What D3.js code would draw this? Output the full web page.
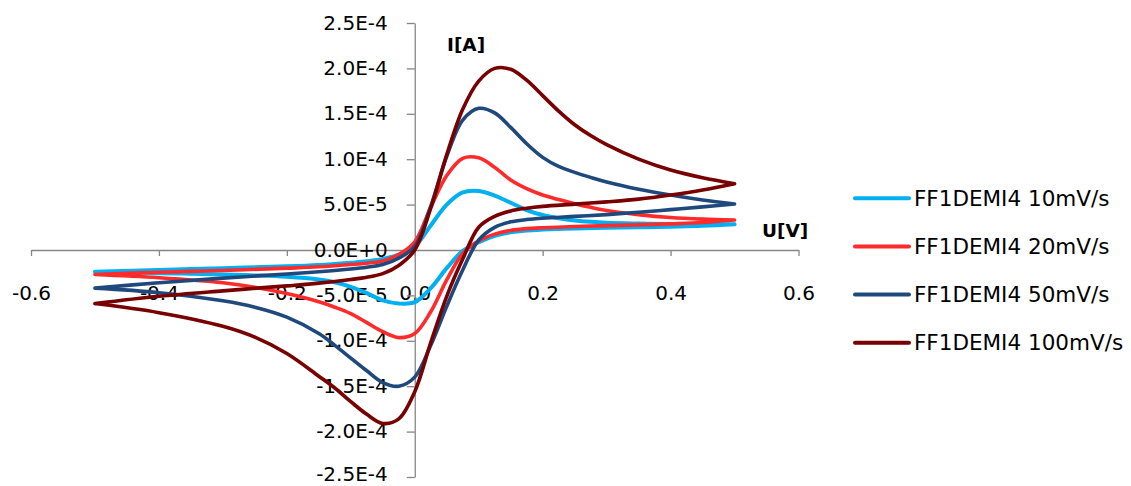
<!DOCTYPE html>
<html><head><meta charset="utf-8">
<script src="https://cdn.jsdelivr.net/npm/d3@7"></script>
<style>html,body{margin:0;padding:0;background:#fff;} svg{display:block;}</style>
</head><body><svg id="chart" width="1131" height="486"></svg>
<script>
// ---- data ----
const xTicks = [-0.6, -0.4, -0.2, 0, 0.2, 0.4, 0.6];
const xTickLabels = ["-0.6", "-0.4", "-0.2", "0.0", "0.2", "0.4", "0.6"];
const yTicks = [-2.5e-4, -2.0e-4, -1.5e-4, -1.0e-4, -5.0e-5, 0, 5.0e-5, 1.0e-4, 1.5e-4, 2.0e-4, 2.5e-4];
const yTickLabels = ["-2.5E-4", "-2.0E-4", "-1.5E-4", "-1.0E-4", "-5.0E-5", "0.0E+0", "5.0E-5", "1.0E-4", "1.5E-4", "2.0E-4", "2.5E-4"];
const seriesNames = ["FF1DEMI4 10mV/s", "FF1DEMI4 20mV/s", "FF1DEMI4 50mV/s", "FF1DEMI4 100mV/s"];
const xTitle = "U[V]";
const yTitle = "I[A]";

// forward scan (-0.5 V -> 0.5 V) potentials
const fwdX = [-0.5, -0.4, -0.3, -0.2, -0.15, -0.1, -0.075, -0.05, -0.025, 0, 0.025, 0.05, 0.075, 0.1, 0.125, 0.15, 0.175, 0.2, 0.225, 0.25, 0.275, 0.3, 0.35, 0.4, 0.45, 0.5];
// reverse scan (0.5 V -> -0.5 V) potentials
const revX = [0.5, 0.45, 0.4, 0.35, 0.3, 0.25, 0.2, 0.175, 0.15, 0.125, 0.1, 0.075, 0.05, 0.025, 0, -0.025, -0.05, -0.075, -0.1, -0.125, -0.15, -0.2, -0.25, -0.3, -0.4, -0.5];

const fwd10  = [-2.4e-5, -2.2e-5, -2.0e-5, -1.8e-5, -1.65e-5, -1.4e-5, -1.25e-5, -1.0e-5, -0.5e-5, 0.4e-5, 2.7e-5, 5.0e-5, 6.35e-5, 6.5e-5, 6.0e-5, 5.2e-5, 4.4e-5, 3.85e-5, 3.5e-5, 3.25e-5, 3.1e-5, 3.0e-5, 2.92e-5, 2.87e-5, 2.85e-5, 2.83e-5];
const rev10  = [2.83e-5, 2.66e-5, 2.57e-5, 2.5e-5, 2.44e-5, 2.37e-5, 2.25e-5, 2.15e-5, 1.95e-5, 1.55e-5, 0.85e-5, -0.1e-5, -2.0e-5, -4.2e-5, -5.75e-5, -5.9e-5, -5.55e-5, -4.75e-5, -4.05e-5, -3.55e-5, -3.25e-5, -2.95e-5, -2.8e-5, -2.7e-5, -2.55e-5, -2.4e-5];

const fwd20  = [-2.7e-5, -2.45e-5, -2.25e-5, -2.0e-5, -1.85e-5, -1.6e-5, -1.45e-5, -1.2e-5, -0.5e-5, 0.9e-5, 4.7e-5, 8.2e-5, 10.1e-5, 10.15e-5, 9.1e-5, 7.7e-5, 6.75e-5, 6.05e-5, 5.55e-5, 5.1e-5, 4.7e-5, 4.35e-5, 3.9e-5, 3.58e-5, 3.4e-5, 3.3e-5];
const rev20  = [3.3e-5, 3.02e-5, 2.88e-5, 2.77e-5, 2.68e-5, 2.58e-5, 2.45e-5, 2.35e-5, 2.15e-5, 1.75e-5, 1.0e-5, -0.4e-5, -3.3e-5, -6.8e-5, -9.2e-5, -9.65e-5, -9.0e-5, -8.0e-5, -7.0e-5, -6.3e-5, -5.7e-5, -4.8e-5, -4.1e-5, -3.6e-5, -3.05e-5, -2.7e-5];

const fwd50  = [-4.2e-5, -3.6e-5, -3.1e-5, -2.65e-5, -2.4e-5, -2.1e-5, -1.9e-5, -1.6e-5, -0.9e-5, 0.4e-5, 4.8e-5, 10.3e-5, 14.3e-5, 15.6e-5, 15.1e-5, 13.5e-5, 11.7e-5, 10.2e-5, 9.2e-5, 8.55e-5, 8.0e-5, 7.5e-5, 6.7e-5, 6.05e-5, 5.5e-5, 5.07e-5];
const rev50  = [5.07e-5, 4.75e-5, 4.45e-5, 4.15e-5, 3.9e-5, 3.7e-5, 3.5e-5, 3.35e-5, 3.1e-5, 2.5e-5, 1.1e-5, -2.2e-5, -6.2e-5, -10.5e-5, -14.0e-5, -15.0e-5, -14.6e-5, -13.3e-5, -11.9e-5, -10.5e-5, -9.2e-5, -7.4e-5, -6.3e-5, -5.6e-5, -4.7e-5, -4.2e-5];

const fwd100 = [-5.9e-5, -5.1e-5, -4.5e-5, -3.95e-5, -3.65e-5, -3.25e-5, -3.0e-5, -2.6e-5, -1.7e-5, 0.0, 4.6e-5, 10.5e-5, 15.5e-5, 18.6e-5, 20.0e-5, 19.9e-5, 18.7e-5, 17.0e-5, 15.3e-5, 13.8e-5, 12.6e-5, 11.6e-5, 10.0e-5, 8.8e-5, 7.95e-5, 7.3e-5];
const rev100 = [7.3e-5, 6.6e-5, 6.05e-5, 5.6e-5, 5.3e-5, 5.05e-5, 4.8e-5, 4.6e-5, 4.3e-5, 3.7e-5, 2.5e-5, -1.0e-5, -5.1e-5, -10.2e-5, -15.6e-5, -18.6e-5, -19.1e-5, -18.1e-5, -16.7e-5, -15.2e-5, -13.9e-5, -11.4e-5, -9.6e-5, -8.4e-5, -6.9e-5, -5.9e-5];

const seriesColors = ["#00B0F0", "#FF2A2A", "#1F497D", "#780000"];
const forwardSets = [fwd10, fwd20, fwd50, fwd100];
const reverseSets = [rev10, rev20, rev50, rev100];

// ---- drawing ----
const svg = d3.select("#chart");
const FONT = "'DejaVu Sans', sans-serif";

const x = d3.scaleLinear().domain([-0.6, 0.6]).range([31, 798.5]);
const y = d3.scaleLinear().domain([-2.5e-4, 2.5e-4]).range([477, 23]);

const axisColor = "#868686";

// x axis at y = 0
const xAxisG = svg.append("g")
  .attr("transform", `translate(0,${y(0)})`)
  .call(d3.axisBottom(x).tickValues(xTicks).tickFormat((d, i) => xTickLabels[i]).tickSize(6).tickSizeOuter(0).tickPadding(30));
xAxisG.select(".domain").attr("stroke", axisColor).attr("stroke-width", 1.3);
xAxisG.selectAll(".tick line").attr("stroke", axisColor).attr("stroke-width", 1.3);
xAxisG.selectAll(".tick text").attr("fill", "#000").style("font-family", FONT).style("font-size", "20px");

// y axis at x = 0
const yAxisG = svg.append("g")
  .attr("transform", `translate(${x(0)},0)`)
  .call(d3.axisLeft(y).tickValues(yTicks).tickFormat((d, i) => yTickLabels[i]).tickSize(8).tickSizeOuter(0).tickPadding(19));
yAxisG.select(".domain").attr("stroke", axisColor).attr("stroke-width", 1.3);
yAxisG.selectAll(".tick line").attr("stroke", axisColor).attr("stroke-width", 1.3);
yAxisG.selectAll(".tick text").attr("fill", "#000")
  .attr("dy", (d, i) => i === 0 ? "0.15em" : "0.3em")
  .style("font-family", FONT).style("font-size", "20px");

// axis titles
svg.append("text").attr("x", 447).attr("y", 51).text(yTitle)
  .style("font-family", FONT).style("font-size", "18.5px").style("font-weight", "bold").attr("fill", "#000");
svg.append("text").attr("x", 762).attr("y", 237).text(xTitle)
  .style("font-family", FONT).style("font-size", "18.5px").style("font-weight", "bold").attr("fill", "#000");

// series: each scan branch drawn as a smooth curve, joined at the vertices
const lineGen = d3.line().x(d => x(d[0])).y(d => y(d[1])).curve(d3.curveCatmullRom.alpha(0.5));
seriesNames.forEach((name, i) => {
  const f = fwdX.map((v, k) => [v, forwardSets[i][k]]);
  const r = revX.map((v, k) => [v, reverseSets[i][k]]);
  svg.append("path")
    .attr("d", lineGen(f) + lineGen(r))
    .attr("fill", "none")
    .attr("stroke", seriesColors[i])
    .attr("stroke-width", i === 0 ? 4 : 3.6)
    .attr("stroke-linejoin", "round")
    .attr("stroke-linecap", "round");
});

// legend
const legendY = d3.scalePoint().domain(seriesNames).range([198.3, 342.7]);
const legend = svg.append("g");
seriesNames.forEach((name, i) => {
  const gy = legendY(name);
  legend.append("line").attr("x1", 855).attr("x2", 909).attr("y1", gy).attr("y2", gy)
    .attr("stroke", seriesColors[i]).attr("stroke-width", 4).attr("stroke-linecap", "round");
  legend.append("text").attr("x", 914).attr("y", gy).attr("dy", "0.36em").text(name)
    .style("font-family", FONT).style("font-size", "21.5px").attr("fill", "#000");
});
</script></body></html>
